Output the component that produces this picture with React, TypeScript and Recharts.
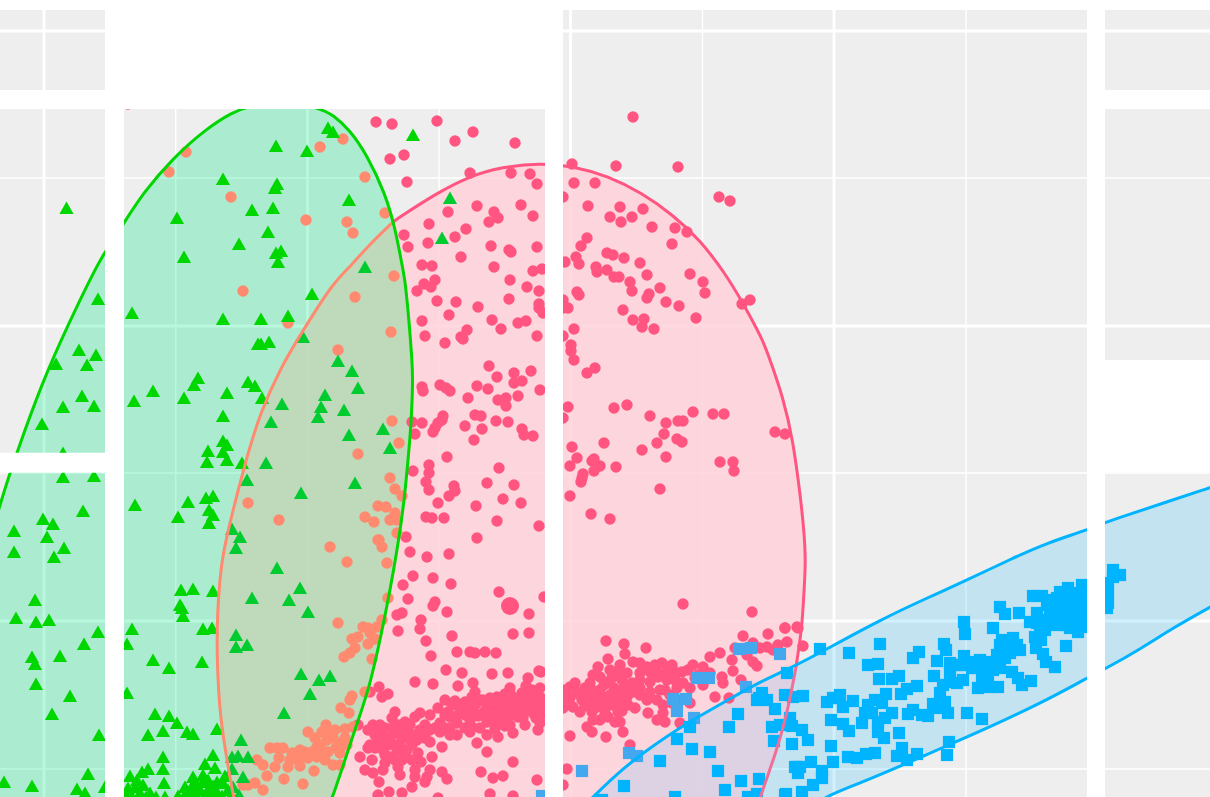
import React from 'react';
import { ScatterChart, Scatter, XAxis, YAxis, ReferenceArea, ReferenceLine } from 'recharts';

type P = [number, number];

const majorX = [44, 307.5, 570.5, 834];
const minorX = [175.7, 439, 702.5, 966];
const majorY = [31, 326, 621];
const minorY = [178, 473, 769];

const pinkArcLeft: P[] = [[238,815],[233,795],[227,760],[220,717],[217,663],[217,617],[221,563],[228,530],[245,463],[260,413],[282,365],[302,332],[333,283],[347,270],[367,247],[393,222]];
const pinkArcMain: P[] = [[393,222],[400,217],[437,193],[470,176],[502,167],[540,163],[573,166],[608,176],[642,193],[673,215],[700,240],[725,273],[743,303],[763,340],[770,360],[783,397],[793,440],[800,493],[804,530],[806,563],[803,607],[802,627],[796,667]];
const pinkArcLower: P[] = [[796,667],[788,710],[777,750],[760,797],[755,815]];
const greenRightArc: P[] = [[325,815],[333,797],[358,720],[370,687],[388,603],[400,533],[405,493],[408,460],[411,427],[413,380],[412,360],[409,320],[405,280],[403,270],[395,227]];
const greenLeftArc: P[] = [[385,193],[367,155],[350,130],[333,115],[320,108],[280,100],[247,107],[233,112],[207,128],[173,158],[143,193],[124,223],[105,252],[95,269],[67,327],[42,383],[17,452],[0,503],[-15,560],[-30,700]];
const greenCorners: P[] = [[-30,815],[325,815]];
const blueTopArc: P[] = [[575,815],[593,797],[623,768],[657,743],[687,723],[723,703],[757,683],[797,665]];
const blueUpperArc: P[] = [[825,650],[880,620],[927,598],[963,582],[1013,558],[1047,543],[1087,530],[1105,522],[1210,488],[1260,470]];
const blueLowerArc: P[] = [[1260,580],[1210,607],[1173,628],[1142,648],[1105,669],[1087,678],[1047,700],[990,727],[953,743],[903,765],[863,782],[823,797],[800,815]];
const blueCorners: P[] = [[575,815]];

const greenPoints: P[] = [[66.5,208],[328,128],[333,132],[276,146],[307,151],[223,179],[277,184],[275,188],[349,200],[252,210],[273,208],[177,218],[268,232],[239,244],[184,257],[276,253],[281,251],[278,262],[365,267],[413,135],[450,198],[442,238],
[98,299],[132,313],[223,319],[261,319],[288,316],[312,294],[303,337],[258,344],[261,344],[269,342],[79,350],[96,355],[56,364],[87,365],[338,361],[352,371],[358,388],[198,378],[194,385],[248,382],[255,386],[227,393],[153,391],[134,401],[184,398],[82,396],[94,406],[63,407],[262,398],[282,404],[325,395],[321,407],[344,410],[318,417],[223,416],[271,422],[42,424],[383,429],[349,435],[223,441],[227,445],[390,448],[208,451],[223,452],[207,462],[227,460],[242,463],[266,463],[247,480],[355,483],[63,453],[63,477],[94,476],[301,493],[188,502],[206,498],[213,496],[135,505],[83,511],[209,510],[213,515],[178,517],[209,523],[43,519],[53,524],[14,531],[47,537],[232,529],[240,537],
[14,552],[64,548],[54,557],[236,548],[277,568],[181,590],[193,589],[213,591],[300,588],[252,598],[289,600],[35,600],[180,605],[182,608],[308,612],[183,616],[16,618],[36,622],[49,620],[98,632],[132,629],[203,629],[212,628],[236,635],[84,644],[127,644],[236,647],[247,645],[32,657],[35,664],[60,656],[153,660],[169,668],[202,662],[36,684],[301,674],[330,676],[319,680],[70,696],[127,693],[310,694],[52,714],[155,714],[169,716],[177,723],[284,713],[163,731],[148,735],[187,732],[193,734],[217,729],[99,735],[241,740],[163,757],[213,755],[238,756],[232,757],[248,757],[163,769],[148,769],[205,764],[142,772],[130,776],[215,768],[232,769],[88,774],[4,782],[32,786],[164,783],[193,777],[243,777],[77,789],[85,793],[105,787],
[128,788],[135,787],[143,785],[150,793],[140,793],[165,797],[185,787],[192,788],[197,785],[203,782],[208,780],[217,782],[223,783],[200,790],[208,790],[217,792],[228,790],[233,787],[190,793],
[126,795],[132,797],[146,797],[156,797],[178,796],[186,793],[196,795],[205,796],[212,797],[222,796],[231,796],[239,795],[137,780],[213,786],[203,775],[225,776],[195,781]];

const salmonPoints: P[] = [[186,152],[169,172],[320,147],[343,139],[365,177],[231,197],[385,213],[306,220],[347,222],[353,233],[243,291],[355,297],[394,276],[288,323],[391,332],[338,350],[392,421],[358,454],[399,443],[390,478],[395,489],[402,496],[248,503],[378,506],[386,507],[365,517],[374,522],[279,520],[390,520],[395,513],[397,520],[379,540],[397,533],
[330,547],[347,562],[378,540],[382,547],[387,563],[388,598],[338,623],[363,627],[368,628],[377,627],[382,620],[352,639],[358,637],[368,644],[375,639],[355,648],[350,653],[344,657],[372,659],[365,692],[352,696],[350,700],[341,708],[349,713],[345,729],[353,727],[308,732],[322,732],[330,731],[333,738],[340,743],[315,738],[317,747],[322,750],[270,748],[277,748],[283,748],[292,753],[305,752],[340,753],[257,760],[279,758],[290,760],[298,760],[308,758],[317,757],[325,760],[263,765],[275,767],[288,767],[333,765],[267,776],[314,771],[284,779],[303,784],[255,783],[248,785],[243,785],[263,790],[340,765],
[327,740],[336,748],[345,738],[300,750],[312,752],[328,752],[335,730],[326,725],[300,766],[320,745],[347,745],[370,633]];

const pinkPoints: P[] = [[128,104],[376,122],[392,124],[390,159],[404,155],[407,182],[404,235],[408,247],
[437,121],[455,141],[473,132],[515,143],[633,117],[616,166],[572,164],[678,167],[719,197],[730,201],[470,173],[511,173],[530,174],[537,184],[574,183],[595,183],[448,212],[429,224],[477,206],[494,212],[498,218],[489,222],[521,205],[533,216],[466,229],[428,243],[455,237],[491,246],[509,250],[511,252],[537,247],[461,257],[422,265],[432,266],[494,267],[533,271],[542,269],[510,280],[435,280],[424,284],[431,287],[417,291],[527,287],[539,291],[437,301],[456,302],[509,299],[539,304],[539,308],[543,313],[478,307],[449,315],[422,321],[492,320],[518,323],[526,321],[501,329],[467,330],[461,337],[463,339],[425,336],[445,343],[537,336],
[588,206],[620,207],[610,217],[621,222],[632,217],[643,209],[652,227],[675,228],[687,232],[672,244],[587,238],[581,246],[607,253],[613,255],[624,258],[640,263],[576,257],[579,264],[565,262],[563,197],[596,267],[597,272],[607,270],[614,277],[619,277],[647,275],[630,282],[632,291],[690,274],[703,282],[705,293],[660,288],[649,294],[647,298],[666,302],[679,306],[742,304],[750,300],[577,292],[579,295],[568,308],[563,300],[563,308],[623,310],[633,320],[644,319],[642,327],[654,329],[696,318],[574,329],[563,336],[571,345],[571,351],[574,360],
[489,366],[497,377],[514,373],[531,371],[522,381],[514,383],[440,385],[446,388],[450,391],[422,387],[423,391],[477,386],[488,389],[540,390],[468,398],[498,400],[506,398],[518,396],[506,406],[475,415],[481,416],[443,416],[442,420],[438,423],[435,428],[433,432],[422,423],[415,434],[412,422],[465,426],[482,429],[496,421],[508,422],[522,429],[524,435],[533,436],[474,440],[447,457],[429,465],[429,473],[426,482],[429,490],[413,471],[499,468],[487,483],[514,485],[454,486],[455,491],[449,496],[438,503],[503,499],[521,503],[476,506],[426,517],[432,518],[444,518],[497,521],[539,526],[477,538],[406,537],[410,552],[427,557],[449,554],[413,576],[433,578],[451,584],[403,585],[499,592],[408,599],[435,602],[433,606],[447,612],[402,613],[529,614],[421,620],[420,629],[544,597],
[568,407],[563,418],[614,408],[627,405],[650,416],[693,412],[713,414],[724,414],[678,421],[683,421],[666,423],[664,434],[677,439],[682,442],[775,432],[785,434],[604,443],[657,443],[642,450],[572,447],[577,458],[592,461],[594,459],[600,466],[594,471],[570,466],[616,467],[666,457],[720,462],[733,462],[734,471],[583,474],[582,478],[581,482],[660,489],[570,496],[591,514],[610,519],[683,604],[752,612],[785,628],[797,627],[587,373],[595,368],
[397,615],[398,631],[426,641],[452,636],[513,634],[529,633],[431,656],[457,652],[470,652],[475,653],[485,652],[496,653],[446,670],[462,673],[492,674],[508,673],[539,671],[415,682],[433,684],[458,686],[473,683],[528,678],[379,687],[388,694],[382,697],[370,692],[475,692],[510,688],
[455,701],[472,697],[497,697],[522,693],[537,692],[540,697],[527,703],[513,707],[500,705],[487,708],[473,710],[460,708],[450,717],[438,708],[420,713],[415,717],[395,712],[392,718],[373,725],[368,730],[382,735],[395,732],[408,728],[425,725],[440,723],[457,723],[472,727],[487,722],[503,720],[518,717],[533,713],[540,723],[525,725],[510,725],[487,735],[498,737],[513,733],[538,730],[457,735],[470,732],[477,743],[487,752],[513,762],[442,747],[430,742],[417,740],[403,738],[390,738],[377,742],[368,748],[360,757],[383,750],[397,750],[407,750],[390,757],[402,760],[418,753],[421,762],[432,757],[365,770],[373,773],[383,770],[398,767],[400,775],[415,770],[415,777],[427,777],[430,770],[442,772],[447,779],[379,782],[412,787],[425,782],[481,772],[493,778],[503,776],[537,780],[389,792],[402,793],[378,795],[490,794],[513,796],[438,798],[358,725],[405,722],[430,715],[445,715],[465,715],[480,715],[495,712],[510,715],[525,710],[540,708],[535,703],[505,700],[385,728],[400,745],[375,735],[410,740],[480,700],[465,702],[445,700],[490,698],[515,698],
[448,712],[452,705],[456,716],[462,713],[466,705],[470,720],[476,704],[478,716],[483,700],[484,712],[489,716],[492,703],[495,722],[500,712],[505,694],[506,712],[510,703],[514,714],[518,699],[520,708],[523,718],[528,697],[530,708],[534,700],[536,718],[540,688],[542,703],[544,714],[532,690],[526,686],[510,693],[505,726],[495,729],[480,728],[465,728],[450,728],
[375,748],[380,742],[385,755],[388,745],[392,728],[395,745],[398,725],[400,735],[405,733],[410,725],[412,745],[415,735],[420,730],[425,738],[430,730],[435,728],[440,732],[445,728],[450,735],[378,730],[372,760],[385,763],[395,760],[405,755],[412,760],[370,745],[380,725],
[570,687],[577,692],[570,698],[582,700],[575,683],[590,683],[588,695],[600,690],[598,703],[608,682],[610,695],[618,697],[612,705],[603,707],[597,707],[627,697],[620,703],[580,712],[573,707],[598,667],[608,659],[606,641],[624,644],[625,654],[646,648],[620,665],[633,662],[640,663],[647,667],[662,663],[672,665],[675,672],[657,672],[640,673],[627,673],[617,672],[593,675],[612,678],[632,683],[640,688],[650,682],[658,677],[667,680],[675,680],[683,683],[688,670],[693,665],[703,667],[710,673],[722,677],[733,671],[723,683],[715,697],[729,698],[741,680],[703,685],[690,688],[677,688],[665,690],[657,700],[647,700],[635,708],[622,711],[648,713],[663,705],[663,713],[657,720],[665,722],[690,703],[680,723],[620,722],[615,722],[608,717],[600,720],[593,720],[587,727],[592,732],[623,732],[606,737],[570,736],[630,745],[567,769],[563,785],[710,657],[720,653],[732,660],[743,636],[753,643],[747,655],[753,662],[757,666],[768,634],[767,647],[778,645],[787,642],[785,628],[798,628],[803,646],[735,648],[760,648],[773,650],[541,672],
[565,690],[565,700],[585,688],[592,690],[596,697],[604,698],[604,685],[614,688],[622,690],[625,688],[580,695],[590,703],[585,706],[608,702],[633,692],[640,695],[628,705],[618,712],[563,695],[563,708],[605,713],[592,712],[610,670],[600,677],[622,680],[640,680],[650,672],[660,690],[670,695],[680,700],[695,678],[655,665],[667,672],[682,672],[698,675],[650,692],[672,703]];

const bigPinkPoints: P[] = [[510,606]];

const mutedBluePoints: P[] = [[582,771],[629,753],[637,756],[673,699],[686,699],[697,678],[709,678],[739,649],[751,648],[780,654],[677,711],[694,718],[746,687],[542,796]];

const bluePoints: P[] = [[624,786],[660,761],[677,739],[690,727],[692,749],[710,752],[718,771],[741,781],[759,779],[725,790],[729,727],[738,714],[757,700],[762,693],[767,700],[775,709],[759,698],[785,695],[793,697],[803,696],[820,649],[787,673],[772,727],[780,725],[790,718],[792,726],[774,741],[792,744],[802,730],[808,740],[827,702],[835,698],[831,720],[831,746],[833,762],[811,762],[797,767],[798,773],[822,771],[822,778],[813,785],[802,792],[786,794],[675,797],[748,797],[757,794],[602,800],
[849,653],[880,644],[868,665],[878,664],[879,679],[892,679],[899,676],[919,652],[913,658],[937,661],[964,622],[965,634],[993,628],[1000,607],[1005,614],[1019,613],[1033,596],[1042,596],[1066,646],[944,644],[946,650],[950,663],[950,670],[964,656],[957,665],[970,662],[980,660],[990,662],[997,655],[1003,650],[1002,640],[1013,638],[1017,645],[1020,650],[1010,653],[998,663],[993,670],[982,678],[988,680],[978,688],[988,687],[998,687],[983,683],[1012,672],[1018,678],[1022,685],[1031,681],
[934,676],[963,680],[957,683],[950,682],[943,685],[940,693],[945,702],[933,704],[940,708],[948,713],[967,713],[982,719],[928,716],[922,715],[913,710],[908,714],[917,686],[907,689],[901,694],[886,694],[875,700],[882,703],[868,705],[853,701],[840,695],[833,698],[843,707],[865,713],[872,713],[892,713],[885,718],[878,722],[862,723],[843,724],[849,731],[878,732],[884,738],[899,733],[902,748],[897,756],[917,754],[907,760],[949,742],[947,755],[875,753],[866,754],[857,758],[848,757],[800,767],[795,767],[785,795],
[1047,605],[1037,613],[1030,622],[1037,623],[1045,630],[1035,637],[1036,648],[1043,654],[1046,662],[1055,667],[1057,598],[1068,588],[1073,593],[1082,585],[1067,602],[1080,600],[1085,607],[1055,608],[1063,610],[1053,618],[1062,620],[1073,623],[1082,627],[1078,632],[1070,628],[1057,625],[1083,617],[1073,605],[1113,570],[1120,575],[1113,577],[1108,583],[1108,593],[1108,603],[1107,608],
[1050,600],[1060,605],[1065,615],[1075,612],[1082,596],[1075,597],[1060,592],[1068,600],[1078,618],[1085,622],[1065,625],[1050,612],[1045,620],[1041,640],[1040,630],[960,665],[975,668],[985,668],[1000,668],[1005,658],[1000,645],[1008,645],[985,672],[972,668]];

const toXY = (a: P[]) => a.map(([x, y]) => ({ x, y }));
const pinkEllipse: P[] = [...pinkArcLeft, ...pinkArcMain, ...pinkArcLower];
const greenOutline: P[] = [...greenRightArc, ...greenLeftArc];
const greenEllipse: P[] = [...greenOutline, ...greenCorners];
const blueTopOutline: P[] = [...blueTopArc, ...blueUpperArc];
const blueEllipse: P[] = [...blueTopOutline, ...blueLowerArc, ...blueCorners];
const greenPinkLens: P[] = [...pinkArcLeft, ...[...greenRightArc].reverse()];
const bluePinkLens: P[] = [...blueTopArc, ...pinkArcLower];

const insidePink = ([x, y]: P) => {
  let c = false;
  for (let i = 0, j = pinkEllipse.length - 1; i < pinkEllipse.length; j = i++) {
    const [xi, yi] = pinkEllipse[i];
    const [xj, yj] = pinkEllipse[j];
    if (yi > y !== yj > y && x < ((xj - xi) * (y - yi)) / (yj - yi) + xi) c = !c;
  }
  return c;
};

const Nothing = () => <g />;
const circle = (fill: string, r = 5.7) => (p: any) => <circle cx={p.cx} cy={p.cy} r={r} fill={fill} />;
const triangle = (fill: string) => (p: any) => (
  <polygon points={`${p.cx - 7.1},${p.cy + 5.9} ${p.cx + 7.1},${p.cy + 5.9} ${p.cx},${p.cy - 6.6}`} fill={fill} />
);
const square = (fill: string) => (p: any) => <rect x={p.cx - 6.1} y={p.cy - 6.1} width={12.2} height={12.2} fill={fill} />;

const masks: [number, number, number, number][] = [
  [0, 1210, 0, 10],
  [105, 124, 0, 797],
  [105, 563, 0, 109],
  [545, 563, 0, 797],
  [1087, 1105, 0, 797],
  [0, 105, 90, 109],
  [0, 105, 452.7, 472.7],
  [1105, 1210, 90, 109],
  [1105, 1210, 360, 472.3],
];

const fillShape = (fill: string, fillOpacity: number) => ({ fill, fillOpacity, stroke: 'none' });
const outline = (stroke: string, w = 3) => ({ stroke, strokeWidth: w, fill: 'none' });

const extra: any = { zIndex: 3000 };

export default function App() {
  return (
    <div style={{ position: 'absolute', left: 0, top: 0, width: 1210, height: 797, overflow: 'hidden', background: '#fff' }}>
      <ScatterChart width={1210} height={797} margin={{ top: 0, right: 0, bottom: 0, left: 0 }}>
        <XAxis type="number" dataKey="x" domain={[0, 1210]} hide allowDataOverflow />
        <YAxis type="number" dataKey="y" domain={[0, 797]} reversed hide allowDataOverflow />
        <ReferenceArea x1={0} x2={1210} y1={0} y2={797} fill="#eeeeee" fillOpacity={1} stroke="none" />
        {majorX.map((x) => <ReferenceLine key={x} x={x} stroke="#fff" strokeWidth={2.8} />)}
        {minorX.map((x) => <ReferenceLine key={x} x={x} stroke="#fff" strokeWidth={1.4} />)}
        {majorY.map((y) => <ReferenceLine key={y} y={y} stroke="#fff" strokeWidth={2.8} />)}
        {minorY.map((y) => <ReferenceLine key={y} y={y} stroke="#fff" strokeWidth={1.4} />)}

        <Scatter data={toXY(pinkEllipse)} line={fillShape('#ffcfd7', 0.8)} shape={Nothing} isAnimationActive={false} />
        <Scatter data={toXY(blueEllipse)} line={fillShape('#34c0ff', 0.22)} shape={Nothing} isAnimationActive={false} />
        <Scatter data={toXY(greenEllipse)} line={fillShape('#00ea84', 0.28)} shape={Nothing} isAnimationActive={false} />
        <Scatter data={toXY(greenPinkLens)} line={fillShape('#c0d9ba', 0.85)} shape={Nothing} isAnimationActive={false} />
        <Scatter data={toXY(bluePinkLens)} line={fillShape('#dfd2e3', 0.85)} shape={Nothing} isAnimationActive={false} />

        <Scatter data={toXY(pinkPoints)} shape={circle('#ff5580')} isAnimationActive={false} />
        <Scatter data={toXY(bigPinkPoints)} shape={circle('#ff5580', 9)} isAnimationActive={false} />
        <Scatter data={toXY(salmonPoints)} shape={circle('#ff8a70')} isAnimationActive={false} />
        <Scatter data={toXY(mutedBluePoints)} shape={square('#44a8ee')} isAnimationActive={false} />
        <Scatter data={toXY(bluePoints)} shape={square('#00b4ff')} isAnimationActive={false} />
        <Scatter data={toXY(greenPoints.filter((p) => !insidePink(p)))} shape={triangle('#00d600')} isAnimationActive={false} />
        <Scatter data={toXY(greenPoints.filter(insidePink))} shape={triangle('#00cc30')} isAnimationActive={false} />

        <Scatter data={toXY(pinkArcMain)} line={outline('#ff5580')} lineJointType="basis" shape={Nothing} isAnimationActive={false} />
        <Scatter data={toXY(pinkArcLeft)} line={outline('#ff8a70')} lineJointType="basis" shape={Nothing} isAnimationActive={false} />
        <Scatter data={toXY(pinkArcLower)} line={outline('#f06f98')} lineJointType="basis" shape={Nothing} isAnimationActive={false} />
        <Scatter data={toXY(blueTopOutline)} line={outline('#00b4ff')} lineJointType="basis" shape={Nothing} isAnimationActive={false} />
        <Scatter data={toXY(blueLowerArc)} line={outline('#00b4ff')} lineJointType="basis" shape={Nothing} isAnimationActive={false} />
        <Scatter data={toXY(greenOutline)} line={outline('#00d600')} lineJointType="basis" shape={Nothing} isAnimationActive={false} />

        {masks.map(([x1, x2, y1, y2], i) => (
          <ReferenceArea key={i} x1={x1} x2={x2} y1={y1} y2={y2} fill="#fff" fillOpacity={1} stroke="none" {...extra} />
        ))}
      </ScatterChart>
    </div>
  );
}
